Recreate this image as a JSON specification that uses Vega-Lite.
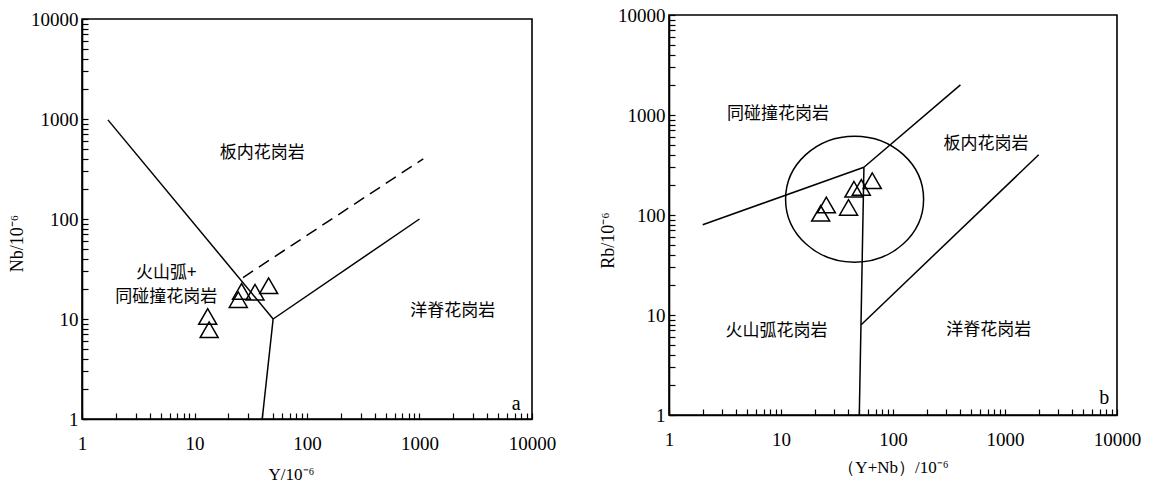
{
  "$schema": "https://vega.github.io/schema/vega-lite/v6.json",
  "background": "white",
  "padding": {"left": 7, "top": 5, "right": 5, "bottom": 5},
  "spacing": 41,
  "config": {
    "view": {"stroke": "black", "strokeWidth": 1.6},
    "axis": {
      "grid": false,
      "domainColor": "black",
      "domainWidth": 1.6,
      "tickColor": "black",
      "tickWidth": 1.2,
      "tickSize": -6,
      "labelFont": "Liberation Serif",
      "labelFontSize": 19,
      "labelColor": "black",
      "labelPadding": 10,
      "labelOverlap": false,
      "labelFlush": false,
      "labelBound": false,
      "titleFont": "Liberation Serif",
      "titleFontSize": 17,
      "titleFontWeight": "normal",
      "titleColor": "black",
      "values": [1,2,3,4,5,6,7,8,9,10,20,30,40,50,60,70,80,90,100,200,300,400,500,600,700,800,900,1000,2000,3000,4000,5000,6000,7000,8000,9000,10000],
      "labelExpr": "(datum.value == 1 || datum.value == 10 || datum.value == 100 || datum.value == 1000 || datum.value == 10000) ? format(datum.value, 'd') : ''"
    }
  },
  "datasets": {
    "spacer": [{"t": ""}],
    "a_lines": [
      {"seg": "s1", "x": 1.7, "y": 980}, {"seg": "s1", "x": 50, "y": 10},
      {"seg": "s2", "x": 50, "y": 10}, {"seg": "s2", "x": 1000, "y": 100},
      {"seg": "s3", "x": 50, "y": 10}, {"seg": "s3", "x": 40, "y": 1}
    ],
    "a_dash": [{"x": 27, "y": 26}, {"x": 1080, "y": 400}],
    "a_pts": [
      {"x": 13.1, "y": 10.6}, {"x": 13.5, "y": 7.8}, {"x": 24.5, "y": 15.6},
      {"x": 26.2, "y": 18.9}, {"x": 34.5, "y": 18.5}, {"x": 45.6, "y": 21.5}
    ],
    "a_text": [
      {"t": "板内花岗岩", "x": 40, "y": 460},
      {"t": "火山弧+\n同碰撞花岗岩", "x": 5.6, "y": 29},
      {"t": "洋脊花岗岩", "x": 1977, "y": 12.1}
    ],
    "a_tag": [{"t": "a", "x": 7244, "y": 1.41}],
    "b_lines": [
      {"seg": "s1", "x": 2, "y": 80}, {"seg": "s1", "x": 55, "y": 300},
      {"seg": "s2", "x": 55, "y": 300}, {"seg": "s2", "x": 400, "y": 2000},
      {"seg": "s3", "x": 55, "y": 300}, {"seg": "s3", "x": 50, "y": 1},
      {"seg": "s4", "x": 52, "y": 8}, {"seg": "s4", "x": 2000, "y": 400}
    ],
    "b_circle": [{"x": 45.4, "y": 144}],
    "b_pts": [
      {"x": 22.6, "y": 104}, {"x": 25.4, "y": 126}, {"x": 40.1, "y": 119},
      {"x": 44.8, "y": 181}, {"x": 52.1, "y": 189}, {"x": 65.3, "y": 220}
    ],
    "b_text": [
      {"t": "同碰撞花岗岩", "x": 9.4, "y": 1025},
      {"t": "板内花岗岩", "x": 675, "y": 515},
      {"t": "火山弧花岗岩", "x": 9.1, "y": 6.9},
      {"t": "洋脊花岗岩", "x": 717, "y": 7.1}
    ],
    "b_tag": [{"t": "b", "x": 7690, "y": 1.49}]
  },
  "hconcat": [
    {
      "spacing": 3,
      "bounds": "flush",
      "vconcat": [
        {
          "width": 450,
          "height": 1,
          "view": {"stroke": null},
          "data": {"name": "spacer"},
          "mark": {"type": "text", "opacity": 0},
          "encoding": {"text": {"field": "t"}}
        },
        {
          "width": 450,
          "height": 400,
          "encoding": {
            "x": {"field": "x", "type": "quantitative", "scale": {"type": "log", "domain": [1, 10000], "nice": false},
                  "axis": {"title": "Y/10⁻⁶", "titlePadding": 13, "labelPadding": 21, "titleX": 209}},
            "y": {"field": "y", "type": "quantitative", "scale": {"type": "log", "domain": [1, 10000], "nice": false},
                  "axis": {"title": "Nb/10⁻⁶", "titlePadding": 4, "titleY": 224, "titleFontSize": 18}}
          },
          "layer": [
            {"data": {"name": "a_lines"}, "mark": {"type": "line", "color": "black", "strokeWidth": 1.5},
             "encoding": {"detail": {"field": "seg"}}},
            {"data": {"name": "a_dash"}, "mark": {"type": "line", "color": "black", "strokeWidth": 1.5, "strokeDash": [12, 7]},
             "encoding": {}},
            {"data": {"name": "a_pts"}, "mark": {"type": "point", "shape": "triangle-up", "size": 324, "filled": false, "stroke": "black", "strokeWidth": 1.5, "opacity": 1}},
            {"data": {"name": "a_text"}, "mark": {"type": "text", "font": "Noto Sans CJK SC", "fontSize": 17, "color": "black", "lineBreak": "\n", "lineHeight": 24},
             "encoding": {"text": {"field": "t"}}},
            {"data": {"name": "a_tag"}, "mark": {"type": "text", "font": "Liberation Serif", "fontSize": 20, "color": "black"},
             "encoding": {"text": {"field": "t"}}}
          ]
        }
      ]
    },
    {
      "width": 448,
      "height": 400,
      "encoding": {
        "x": {"field": "x", "type": "quantitative", "scale": {"type": "log", "domain": [1, 10000], "nice": false},
              "axis": {"title": "（Y+Nb）/10⁻⁶", "titlePadding": 10, "labelPadding": 21}},
        "y": {"field": "y", "type": "quantitative", "scale": {"type": "log", "domain": [1, 10000], "nice": false},
              "axis": {"title": "Rb/10⁻⁶", "titlePadding": 0, "titleY": 225, "titleFontSize": 18}}
      },
      "layer": [
        {"data": {"name": "b_lines"}, "mark": {"type": "line", "color": "black", "strokeWidth": 1.5},
         "encoding": {"detail": {"field": "seg"}}},
        {"data": {"name": "b_circle"}, "mark": {"type": "point", "shape": "M -1 0 A 1 0.913 0 1 0 1 0 A 1 0.913 0 1 0 -1 0 Z", "size": 19044, "filled": false, "stroke": "black", "strokeWidth": 1.5, "opacity": 1}},
        {"data": {"name": "b_pts"}, "mark": {"type": "point", "shape": "triangle-up", "size": 324, "filled": false, "stroke": "black", "strokeWidth": 1.5, "opacity": 1}},
        {"data": {"name": "b_text"}, "mark": {"type": "text", "font": "Noto Sans CJK SC", "fontSize": 17, "color": "black"},
         "encoding": {"text": {"field": "t"}}},
        {"data": {"name": "b_tag"}, "mark": {"type": "text", "font": "Liberation Serif", "fontSize": 20, "color": "black"},
         "encoding": {"text": {"field": "t"}}}
      ]
    }
  ]
}
